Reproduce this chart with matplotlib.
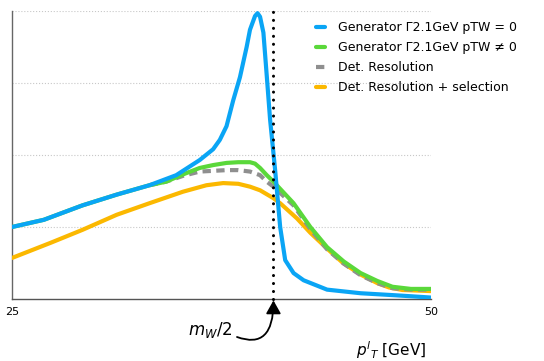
import matplotlib
matplotlib.use("Agg")
import matplotlib.pyplot as plt

# Data
blue_x = [25.0, 26.9, 29.2, 31.25, 33.2, 34.8, 36.2, 37.0, 37.4, 37.8, 38.2, 38.6, 39.0, 39.2, 39.5, 39.65, 39.8, 40.0, 40.2, 40.4, 40.7, 41.0, 41.3, 41.8, 42.4, 43.8, 45.8, 48.0, 50.0]
blue_y = [1.0, 1.1, 1.3, 1.45, 1.58, 1.72, 1.93, 2.08, 2.21, 2.4, 2.76, 3.08, 3.5, 3.74, 3.93, 3.97, 3.92, 3.7, 3.1, 2.49, 1.79, 1.0, 0.54, 0.36, 0.26, 0.13, 0.08, 0.05, 0.02]

green_x = [25.0, 26.9, 29.2, 31.25, 33.2, 34.2, 35.2, 36.2, 37.0, 37.8, 38.5, 39.2, 39.5, 39.8, 40.2, 40.6, 41.2, 41.8, 42.8, 43.8, 44.8, 45.8, 46.8, 47.7, 48.8, 50.0]
green_y = [1.0, 1.1, 1.3, 1.45, 1.58, 1.63, 1.73, 1.82, 1.86, 1.89, 1.9, 1.9, 1.88, 1.82, 1.72, 1.63, 1.48, 1.33, 1.0, 0.72, 0.52, 0.36, 0.25, 0.17, 0.14, 0.14]

grey_x = [33.2, 34.2, 35.2, 36.2, 37.0, 37.8, 38.5, 39.2, 39.8, 40.2, 40.6, 41.2, 41.8, 42.8, 43.8, 44.8, 45.8, 46.8, 47.7, 48.8, 50.0]
grey_y = [1.58, 1.63, 1.71, 1.77, 1.78, 1.79, 1.79, 1.77, 1.72, 1.63, 1.56, 1.43, 1.3, 0.97, 0.69, 0.49, 0.33, 0.22, 0.15, 0.13, 0.13]

yellow_x = [25.0, 27.3, 29.2, 31.25, 33.2, 35.2, 36.6, 37.6, 38.5, 39.2, 39.8, 40.6, 41.0, 42.0, 42.8, 43.8, 44.75, 45.8, 46.8, 47.5, 48.3, 50.0]
yellow_y = [0.57, 0.78, 0.96, 1.17, 1.33, 1.49, 1.58, 1.61, 1.6, 1.56, 1.51, 1.40, 1.33, 1.12, 0.92, 0.7, 0.5, 0.34, 0.22, 0.16, 0.125, 0.11]

labels = ["Generator \u03932.1GeV pTW = 0", "Generator \u03932.1GeV pTW \u2260 0",
          "Det. Resolution", "Det. Resolution + selection"]
mw_half = 40.6
xticks = [25, 50]

fig = plt.figure(figsize=(5.44, 3.61), dpi=100)
ax = fig.add_axes([12/544, 1-299/361, 419/544, 288/361])

lw = 3.0
h1, = ax.plot(blue_x, blue_y, color="#0aa5f5", lw=lw, solid_capstyle="round", zorder=5)
h2, = ax.plot(green_x, green_y, color="#5ad83a", lw=lw, solid_capstyle="round", zorder=4)
h3, = ax.plot(grey_x, grey_y, color="#8f8f8f", lw=lw, ls=(0, (2.0, 1.3)), zorder=3.5)
h4, = ax.plot(yellow_x, yellow_y, color="#fbb800", lw=lw, solid_capstyle="round", zorder=3)

ax.plot([mw_half, mw_half], [0, 4.1], color="black", lw=2.2,
        ls=(0, (0.01, 2.6)), dash_capstyle="round", clip_on=False, zorder=6)

ax.set_xlim(25, 50)
ax.set_ylim(0, 4)
ax.set_yticks([1, 2, 3, 4])
ax.yaxis.grid(True, color="#c8c8c8", ls=":", lw=0.8)
ax.set_yticklabels([])
ax.tick_params(axis="y", length=0)
ax.set_xticks(xticks)
ax.set_xticklabels([str(t) for t in xticks], fontsize=8)
ax.tick_params(axis="x", length=0, pad=6)
for s in ["top", "right"]:
    ax.spines[s].set_visible(False)
ax.spines["left"].set_color("#666666")
ax.spines["bottom"].set_color("#555555")
ax.spines["left"].set_linewidth(1.0)
ax.spines["bottom"].set_linewidth(1.0)

fig.legend([h1, h2, h3, h4], labels, loc="upper left",
           bbox_to_anchor=(305/544, 1-10/361), frameon=False, fontsize=9,
           handlelength=0.7, handletextpad=1.0, labelspacing=0.55)

fig.text(210/544, 1-330/361, "$m_W/2$", fontsize=12, ha="center", va="center")
ax.annotate("", xy=(mw_half, -0.02), xycoords="data",
            xytext=(237/544, 1-337/361), textcoords="figure fraction",
            arrowprops=dict(arrowstyle="-|>,head_length=0.8,head_width=0.45", color="black", lw=1.3,
                            connectionstyle="angle3,angleA=-20,angleB=90",
                            shrinkA=0, shrinkB=0),
            annotation_clip=False)
fig.text(426/544, 1-350/361, "$p^l{}_T$ [GeV]", fontsize=11, ha="right", va="center")

fig.savefig("out.png", dpi=100)
